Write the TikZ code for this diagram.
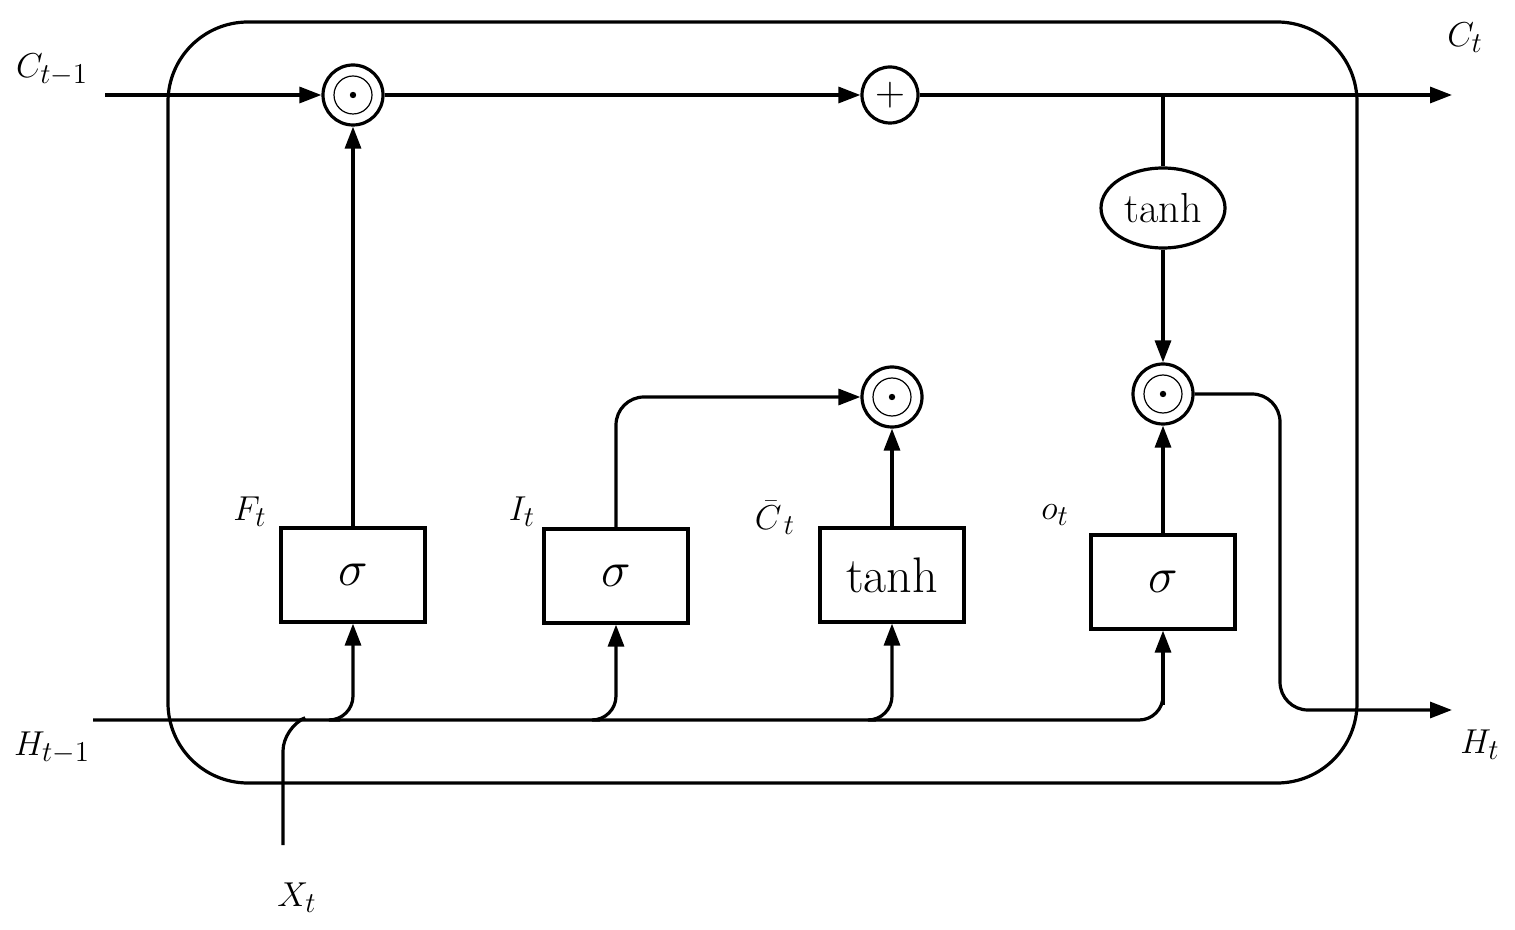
\documentclass[tikz,border=0pt]{standalone}
\usetikzlibrary{arrows.meta,shapes.geometric}
\begin{document}
\begin{tikzpicture}[x=0.5pt,y=-0.5pt,line width=1.6pt,
  >={Triangle[length=11pt,width=8pt]},
  box/.style={draw,minimum width=72pt,minimum height=47pt,inner sep=0pt,font=\fontsize{25}{25}\selectfont},
  lbl/.style={font=\fontsize{19}{19}\selectfont},
  odot/.style={circle,draw,minimum size=30pt,inner sep=0pt,
    append after command={\pgfextra{\draw[line width=0.6pt] (\tikzlastnode.center) circle (9.5pt); \fill (\tikzlastnode.center) circle (1.6pt);}}},
  oplus/.style={circle,draw,minimum size=28pt,inner sep=0pt,font=\fontsize{20}{20}\selectfont}]
\useasboundingbox (0,0) rectangle (1515,930);
\draw[rounded corners=40pt] (168,22) rectangle (1357,783);
\node[odot] (m1) at (353,95) {};
\node[oplus] (p1) at (890,95) {$+$};
\node[odot] (m2) at (892,397) {};
\node[odot] (m3) at (1163,394) {};
\node[ellipse,draw,minimum width=62pt,minimum height=40pt,inner sep=0pt,font=\fontsize{21}{21}\selectfont] (th) at (1163,208) {tanh};
\node[box] (f) at (353,575) {$\sigma$};
\node[box] (i) at (616,576) {$\sigma$};
\node[box] (g) at (892,575) {tanh};
\node[box] (o) at (1163,582) {$\sigma$};
\node[lbl] at (52,70) {$C_{t-1}$};
\node[lbl] at (1465,38) {$C_t$};
\node[lbl] at (250,512) {$F_t$};
\node[lbl] at (522,512) {$I_t$};
\node[lbl] at (775,518) {$\bar{C}_{\,t}$};
\node[lbl] at (1055,515) {$o_t$};
\node[lbl] at (52,748) {$H_{t-1}$};
\node[lbl] at (1480,745) {$H_t$};
\node[lbl] at (297,898) {$X_t$};
\coordinate (cin) at (105,95);
\coordinate (cout) at (1452,95);
\coordinate (hin) at (93,720);
\coordinate (hout) at (1452,710);
\coordinate (xin) at (283,845);
\coordinate (tap) at (1163,95);
\draw[->] (cin) -- (m1);
\draw[->] (m1) -- (p1);
\draw[->] (p1) -- (cout);
\draw (tap) -- (th.north);
\draw[->] (th) -- (m3);
\draw[->] (f) -- (m1);
\draw[->,rounded corners=14pt] (i.north) -- (616,397) -- (m2);
\draw[->] (g) -- (m2);
\draw[->] (o) -- (m3);
\draw[->,rounded corners=14pt] (m3.east) -- (1280,394) -- (1280,710) -- (hout);
\draw[rounded corners=12pt] (hin) -- (1163,720) -- (1163,700);
\draw[->] (1163,705) -- (o.south);
\draw[->,rounded corners=12pt] (340,720) -- (353,720) -- (f.south);
\draw[->,rounded corners=12pt] (600,720) -- (616,720) -- (i.south);
\draw[->,rounded corners=12pt] (876,720) -- (892,720) -- (g.south);
\draw[rounded corners=12pt] (xin) -- (283,727) -- (300,720);
\end{tikzpicture}
\end{document}
